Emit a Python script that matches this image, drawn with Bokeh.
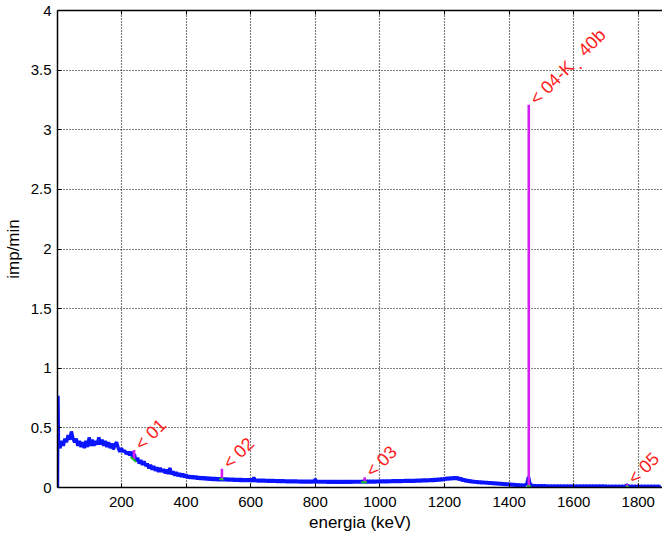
from bokeh.plotting import figure
from bokeh.models import Range1d, FixedTicker, LinearAxis, ColumnDataSource
from bokeh.core.properties import value
from bokeh.embed import file_html
from bokeh.resources import INLINE

# Gamma spectrum, 5 keV channels from 5 to 1870 keV (imp/min)
kev_step = 5
spectrum_start = [2, 3.5]          # first channels: detector noise spike
spectrum_start_val = [0.0, 0.77]
counts = [
    # 5 - 100
    0.36, 0.33, 0.39, 0.35, 0.41, 0.38, 0.44, 0.40, 0.47, 0.41, 0.38, 0.41, 0.35, 0.39, 0.34, 0.38, 0.33, 0.39, 0.34, 0.42,
    # 105 - 200
    0.35, 0.40, 0.35, 0.39, 0.36, 0.42, 0.36, 0.40, 0.35, 0.39, 0.34, 0.38, 0.33, 0.37, 0.32, 0.36, 0.38, 0.33, 0.30, 0.33,
    # 205 - 300
    0.30, 0.31, 0.28, 0.30, 0.27, 0.30, 0.25, 0.28, 0.22, 0.25, 0.20, 0.23, 0.19, 0.22, 0.18, 0.20, 0.16, 0.19, 0.15, 0.18,
    # 305 - 400
    0.14, 0.17, 0.13, 0.165, 0.13, 0.155, 0.12, 0.15, 0.115, 0.165, 0.11, 0.135, 0.10, 0.13, 0.095, 0.12, 0.09, 0.115, 0.085, 0.11,
    # 405 - 500
    0.08, 0.10, 0.077, 0.097, 0.074, 0.095, 0.07, 0.092, 0.068, 0.09, 0.066, 0.088, 0.064, 0.086, 0.062, 0.084, 0.06, 0.082, 0.059, 0.08,
    # 505 - 600
    0.058, 0.08, 0.058, 0.078, 0.057, 0.077, 0.056, 0.076, 0.055, 0.075, 0.054, 0.074, 0.053, 0.073, 0.053, 0.072, 0.052, 0.071, 0.051, 0.072,
    # 605 - 700
    0.05, 0.085, 0.05, 0.068, 0.049, 0.067, 0.048, 0.066, 0.048, 0.065, 0.047, 0.064, 0.046, 0.064, 0.046, 0.063, 0.045, 0.063, 0.045, 0.062,
    # 705 - 800
    0.044, 0.061, 0.043, 0.061, 0.043, 0.06, 0.042, 0.06, 0.042, 0.059, 0.041, 0.059, 0.041, 0.059, 0.04, 0.058, 0.04, 0.058, 0.04, 0.072,
    # 805 - 900
    0.04, 0.057, 0.04, 0.057, 0.039, 0.057, 0.039, 0.056, 0.039, 0.056, 0.039, 0.056, 0.039, 0.056, 0.039, 0.056, 0.039, 0.056, 0.039, 0.056,
    # 905 - 1000
    0.039, 0.056, 0.039, 0.057, 0.04, 0.057, 0.04, 0.057, 0.04, 0.058, 0.04, 0.058, 0.041, 0.058, 0.041, 0.059, 0.041, 0.059, 0.042, 0.06,
    # 1005 - 1100
    0.042, 0.06, 0.043, 0.061, 0.043, 0.061, 0.044, 0.062, 0.044, 0.062, 0.045, 0.063, 0.045, 0.063, 0.046, 0.064, 0.046, 0.064, 0.047, 0.065,
    # 1105 - 1200
    0.047, 0.066, 0.048, 0.067, 0.049, 0.068, 0.05, 0.069, 0.051, 0.07, 0.052, 0.072, 0.053, 0.073, 0.055, 0.075, 0.057, 0.077, 0.06, 0.08,
    # 1205 - 1300
    0.064, 0.083, 0.066, 0.087, 0.068, 0.089, 0.07, 0.087, 0.064, 0.08, 0.056, 0.072, 0.05, 0.066, 0.046, 0.061, 0.042, 0.057, 0.039, 0.054,
    # 1305 - 1400
    0.037, 0.052, 0.035, 0.05, 0.033, 0.048, 0.031, 0.046, 0.029, 0.044, 0.027, 0.042, 0.025, 0.04, 0.023, 0.038, 0.021, 0.036, 0.019, 0.034,
    # 1405 - 1500
    0.017, 0.031, 0.015, 0.029, 0.013, 0.027, 0.012, 0.025, 0.011, 0.023, 0.03, 0.09, 0.03, 0.02, 0.008, 0.02, 0.007, 0.019, 0.007, 0.018,
    # 1505 - 1600
    0.006, 0.018, 0.006, 0.017, 0.006, 0.017, 0.005, 0.017, 0.005, 0.016, 0.005, 0.016, 0.005, 0.016, 0.005, 0.016, 0.005, 0.016, 0.005, 0.016,
    # 1605 - 1700
    0.005, 0.015, 0.005, 0.015, 0.005, 0.015, 0.005, 0.015, 0.005, 0.015, 0.005, 0.015, 0.005, 0.015, 0.005, 0.015, 0.005, 0.015, 0.005, 0.015,
    # 1705 - 1800
    0.004, 0.014, 0.004, 0.014, 0.004, 0.014, 0.004, 0.014, 0.004, 0.014, 0.004, 0.014, 0.02, 0.014, 0.004, 0.014, 0.004, 0.014, 0.004, 0.014,
    # 1805 - 1870
    0.004, 0.014, 0.004, 0.014, 0.004, 0.014, 0.004, 0.014, 0.004, 0.014, 0.004, 0.014, 0.004, 0.014,
]
energies = [kev_step * (i + 1) for i in range(len(counts))]

# Identified peaks: centroid, net peak top, continuum under the peak
peak_names = ["< 01", "< 02", "< 03", "< 04-K\u00a0\u00a0 40b", "< 05"]
peak_kev = [239, 511, 953, 1461, 1765]
peak_top = [0.315, 0.157, 0.087, 3.21, 0.03]
peak_base = [0.24, 0.072, 0.05, 0.015, 0.01]
# continuum (background) segment below each peak
bg_left_kev = [228, 503, 942, 1455, 1761]
bg_right_kev = [245, 516, 960, 1468, 1771]
bg_left_val = [0.255, 0.072, 0.045, 0.01, 0.006]
bg_right_val = [0.215, 0.068, 0.045, 0.01, 0.006]

x_ticks = [200, 400, 600, 800, 1000, 1200, 1400, 1600, 1800]
y_ticks = [0, 0.5, 1, 1.5, 2, 2.5, 3, 3.5, 4]
y_tick_labels = ["0", "0.5", "1", "1.5", "2", "2.5", "3", "3.5", "4"]

FONT = "Liberation Sans"

p = figure(width=662, height=538, output_backend="svg", toolbar_location=None,
           x_range=Range1d(2, 1875), y_range=Range1d(0, 4),
           min_border_left=57, min_border_right=0, min_border_top=10, min_border_bottom=51,
           x_axis_location=None, y_axis_location=None)
p.outline_line_color = None
p.background_fill_color = "white"
p.border_fill_color = "white"

bottom_axis = LinearAxis(ticker=FixedTicker(ticks=x_ticks), axis_label="energia (keV)")
left_axis = LinearAxis(ticker=FixedTicker(ticks=y_ticks), axis_label="imp/min",
                       major_label_overrides={t: s for t, s in zip(y_ticks, y_tick_labels)})
# top frame edge with inward ticks only
top_axis = LinearAxis(ticker=FixedTicker(ticks=x_ticks), major_label_text_font_size="0px",
                      major_label_text_color=None, major_label_standoff=0)

for ax in (bottom_axis, left_axis, top_axis):
    ax.major_tick_in = 4
    ax.major_tick_out = 0
    ax.minor_tick_line_color = None
    ax.axis_line_color = "black"
    ax.axis_line_width = 1.5
    ax.major_tick_line_color = "black"
    ax.axis_label_text_font = FONT
    ax.axis_label_text_font_size = "17px"
    ax.axis_label_text_font_style = "normal"
    ax.axis_label_text_color = "black"
for ax in (bottom_axis, left_axis):
    ax.major_label_text_font = FONT
    ax.major_label_text_font_size = "15px"
    ax.major_label_text_color = "black"

bottom_axis.major_label_standoff = 9
bottom_axis.axis_label_standoff = 3
left_axis.major_label_standoff = 6
left_axis.axis_label_standoff = 5

p.add_layout(bottom_axis, "below")
p.add_layout(left_axis, "left")
p.add_layout(top_axis, "above")

for g in (p.xgrid[0], p.ygrid[0]):
    g.grid_line_color = "black"
    g.grid_line_dash = "1 2"
    g.grid_line_width = 1.2
    g.grid_line_alpha = 1
p.xgrid.ticker = FixedTicker(ticks=x_ticks)
p.ygrid.ticker = FixedTicker(ticks=y_ticks)

# spectrum
p.line(spectrum_start + energies, spectrum_start_val + counts, line_color="#0a14ff", line_width=3.4)

# net peak areas (magenta) and continuum under them (green)
p.segment(x0=peak_kev, y0=peak_base, x1=peak_kev, y1=peak_top, line_color="#d21ef0", line_width=2.6)
p.segment(x0=bg_left_kev, y0=bg_left_val, x1=bg_right_kev, y1=bg_right_val, line_color="#22c322", line_width=2)

# peak labels
src = ColumnDataSource(dict(x=peak_kev, y=peak_top, t=peak_names))
p.text(x="x", y="y", text="t", source=src, angle=45, angle_units="deg",
       text_font=value(FONT), text_font_size="18px", text_color="#ff1c1c",
       text_align="left", text_baseline="middle", x_offset=4, y_offset=-3)
p.text(x=[peak_kev[3]], y=[peak_top[3]], text=["."], text_font=value(FONT), text_font_size="18px",
       text_color="#ff1c1c", text_align="center", text_baseline="alphabetic", x_offset=52, y_offset=-42)

open("out.html", "w").write(file_html(p, INLINE))
